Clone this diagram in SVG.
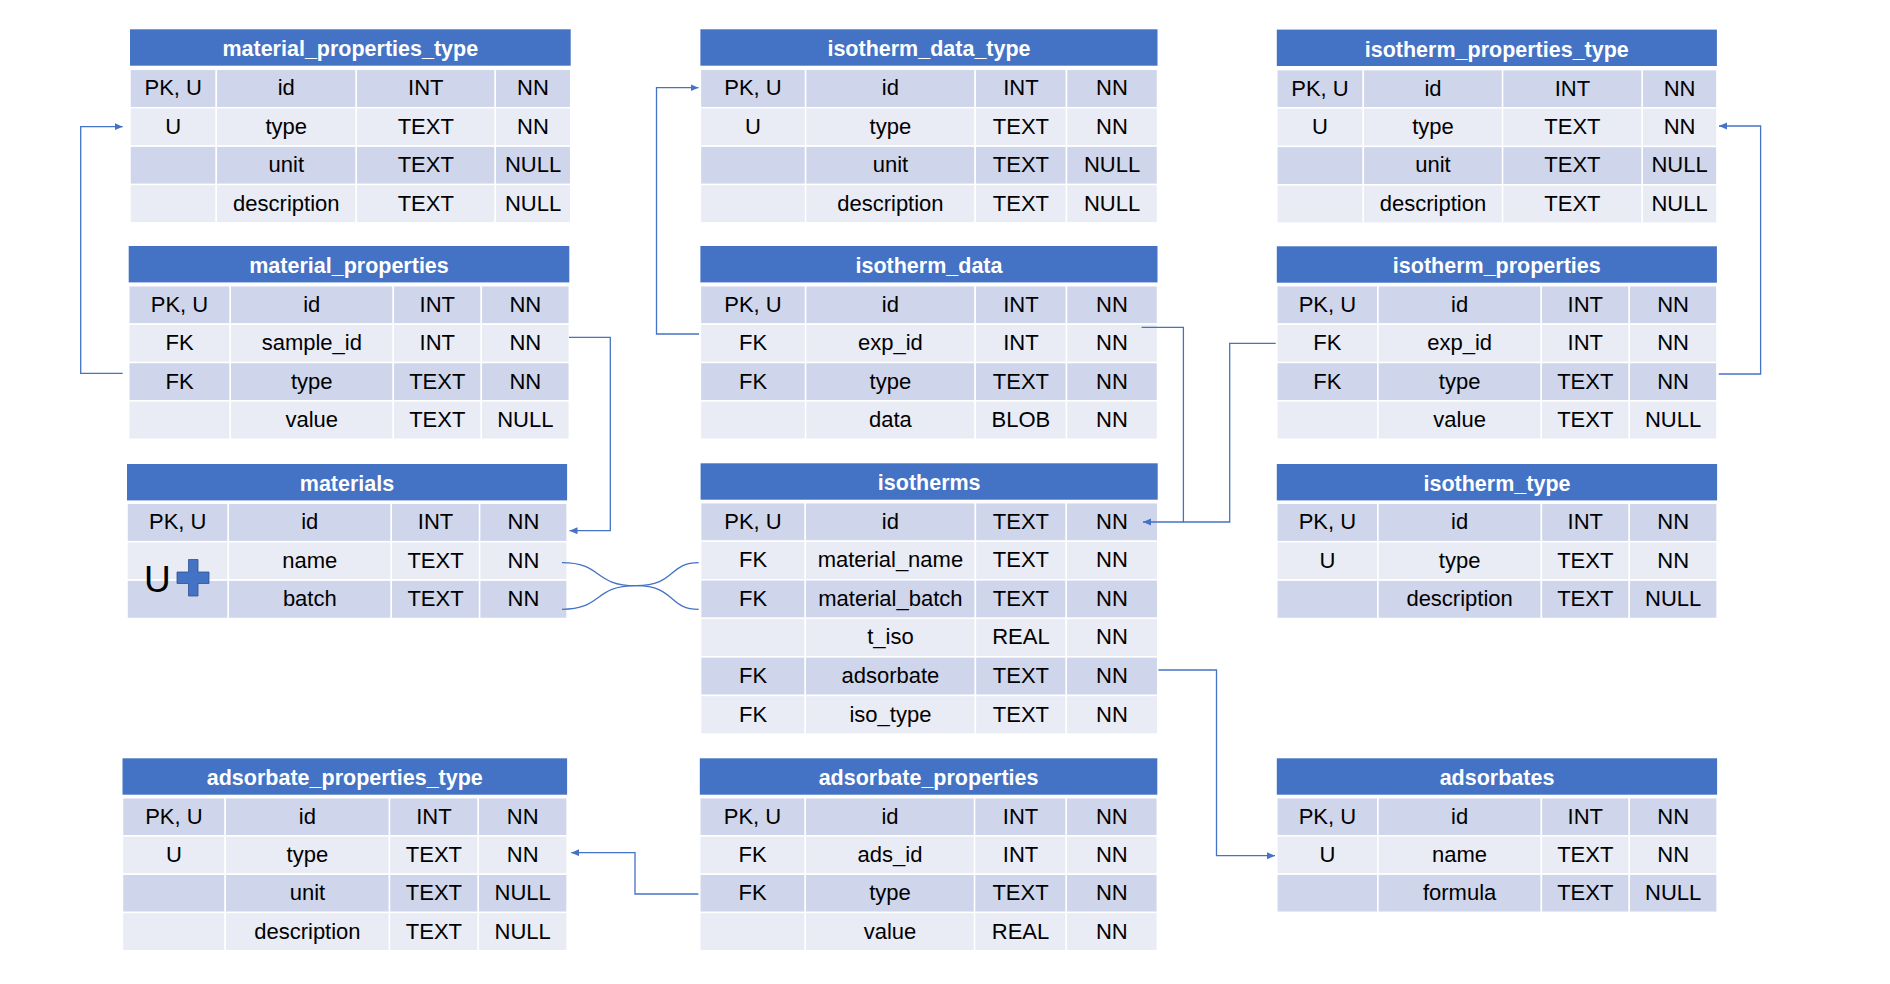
<svg xmlns="http://www.w3.org/2000/svg" width="1890" height="984" viewBox="0 0 1890 984">
<defs>
<style>
.hd{fill:#4472c4}
.d{fill:#cfd5ea;stroke:#fff;stroke-width:1.5}
.l{fill:#e9ebf5;stroke:#fff;stroke-width:1.5}
.ht{font-family:"Liberation Sans",Arial,sans-serif;font-weight:bold;font-size:21.5px;fill:#fff;text-anchor:middle;transform:translateY(1px)}
.t{font-family:"Liberation Sans",Arial,sans-serif;font-size:22px;fill:#000;text-anchor:middle;transform:translateY(1px)}
.c{fill:none;stroke:#4472c4;stroke-width:1.3}
</style>
<marker id="ah" markerUnits="userSpaceOnUse" markerWidth="9" markerHeight="8" refX="8" refY="3.5" orient="auto">
<path d="M0,0 L8,3.5 L0,7 z" fill="#4472c4"/>
</marker>
</defs>
<rect width="1890" height="984" fill="#fff"/>

<!-- material_properties_type -->
<g id="material_properties_type">
<rect class="hd" x="130" y="29.3" width="440.7" height="36.4"/>
<text class="ht" x="350.3" y="55.3">material_properties_type</text>
<rect class="d" x="130" y="69.3" width="86.3" height="38.4"/><rect class="d" x="216.3" y="69.3" width="140" height="38.4"/><rect class="d" x="356.3" y="69.3" width="139" height="38.4"/><rect class="d" x="495.3" y="69.3" width="75.4" height="38.4"/>
<rect class="l" x="130" y="107.7" width="86.3" height="38.4"/><rect class="l" x="216.3" y="107.7" width="140" height="38.4"/><rect class="l" x="356.3" y="107.7" width="139" height="38.4"/><rect class="l" x="495.3" y="107.7" width="75.4" height="38.4"/>
<rect class="d" x="130" y="146.1" width="86.3" height="38.4"/><rect class="d" x="216.3" y="146.1" width="140" height="38.4"/><rect class="d" x="356.3" y="146.1" width="139" height="38.4"/><rect class="d" x="495.3" y="146.1" width="75.4" height="38.4"/>
<rect class="l" x="130" y="184.5" width="86.3" height="38.4"/><rect class="l" x="216.3" y="184.5" width="140" height="38.4"/><rect class="l" x="356.3" y="184.5" width="139" height="38.4"/><rect class="l" x="495.3" y="184.5" width="75.4" height="38.4"/>
<text class="t" x="173.2" y="94.3">PK, U</text><text class="t" x="286.3" y="94.3">id</text><text class="t" x="425.8" y="94.3">INT</text><text class="t" x="533" y="94.3">NN</text>
<text class="t" x="173.2" y="132.7">U</text><text class="t" x="286.3" y="132.7">type</text><text class="t" x="425.8" y="132.7">TEXT</text><text class="t" x="533" y="132.7">NN</text>
<text class="t" x="286.3" y="171.1">unit</text><text class="t" x="425.8" y="171.1">TEXT</text><text class="t" x="533" y="171.1">NULL</text>
<text class="t" x="286.3" y="209.5">description</text><text class="t" x="425.8" y="209.5">TEXT</text><text class="t" x="533" y="209.5">NULL</text>
</g>

<!-- material_properties -->
<g id="material_properties">
<rect class="hd" x="128.7" y="246" width="440.6" height="36.4"/>
<text class="ht" x="349" y="272">material_properties</text>
<rect class="d" x="128.7" y="285.7" width="101.6" height="38.4"/><rect class="d" x="230.3" y="285.7" width="163" height="38.4"/><rect class="d" x="393.3" y="285.7" width="88" height="38.4"/><rect class="d" x="481.3" y="285.7" width="88" height="38.4"/>
<rect class="l" x="128.7" y="324.1" width="101.6" height="38.4"/><rect class="l" x="230.3" y="324.1" width="163" height="38.4"/><rect class="l" x="393.3" y="324.1" width="88" height="38.4"/><rect class="l" x="481.3" y="324.1" width="88" height="38.4"/>
<rect class="d" x="128.7" y="362.5" width="101.6" height="38.4"/><rect class="d" x="230.3" y="362.5" width="163" height="38.4"/><rect class="d" x="393.3" y="362.5" width="88" height="38.4"/><rect class="d" x="481.3" y="362.5" width="88" height="38.4"/>
<rect class="l" x="128.7" y="400.9" width="101.6" height="38.4"/><rect class="l" x="230.3" y="400.9" width="163" height="38.4"/><rect class="l" x="393.3" y="400.9" width="88" height="38.4"/><rect class="l" x="481.3" y="400.9" width="88" height="38.4"/>
<text class="t" x="179.5" y="310.7">PK, U</text><text class="t" x="311.8" y="310.7">id</text><text class="t" x="437.3" y="310.7">INT</text><text class="t" x="525.3" y="310.7">NN</text>
<text class="t" x="179.5" y="349.1">FK</text><text class="t" x="311.8" y="349.1">sample_id</text><text class="t" x="437.3" y="349.1">INT</text><text class="t" x="525.3" y="349.1">NN</text>
<text class="t" x="179.5" y="387.5">FK</text><text class="t" x="311.8" y="387.5">type</text><text class="t" x="437.3" y="387.5">TEXT</text><text class="t" x="525.3" y="387.5">NN</text>
<text class="t" x="311.8" y="425.9">value</text><text class="t" x="437.3" y="425.9">TEXT</text><text class="t" x="525.3" y="425.9">NULL</text>
</g>

<!-- isotherm_data_type -->
<g id="isotherm_data_type">
<rect class="hd" x="700.4" y="29.3" width="457.1" height="36.4"/>
<text class="ht" x="929" y="55.3">isotherm_data_type</text>
<rect class="d" x="700.4" y="69.3" width="105.2" height="38.4"/><rect class="d" x="805.6" y="69.3" width="169.6" height="38.4"/><rect class="d" x="975.2" y="69.3" width="91.3" height="38.4"/><rect class="d" x="1066.5" y="69.3" width="91" height="38.4"/>
<rect class="l" x="700.4" y="107.7" width="105.2" height="38.4"/><rect class="l" x="805.6" y="107.7" width="169.6" height="38.4"/><rect class="l" x="975.2" y="107.7" width="91.3" height="38.4"/><rect class="l" x="1066.5" y="107.7" width="91" height="38.4"/>
<rect class="d" x="700.4" y="146.1" width="105.2" height="38.4"/><rect class="d" x="805.6" y="146.1" width="169.6" height="38.4"/><rect class="d" x="975.2" y="146.1" width="91.3" height="38.4"/><rect class="d" x="1066.5" y="146.1" width="91" height="38.4"/>
<rect class="l" x="700.4" y="184.5" width="105.2" height="38.4"/><rect class="l" x="805.6" y="184.5" width="169.6" height="38.4"/><rect class="l" x="975.2" y="184.5" width="91.3" height="38.4"/><rect class="l" x="1066.5" y="184.5" width="91" height="38.4"/>
<text class="t" x="753" y="94.3">PK, U</text><text class="t" x="890.4" y="94.3">id</text><text class="t" x="1020.9" y="94.3">INT</text><text class="t" x="1112" y="94.3">NN</text>
<text class="t" x="753" y="132.7">U</text><text class="t" x="890.4" y="132.7">type</text><text class="t" x="1020.9" y="132.7">TEXT</text><text class="t" x="1112" y="132.7">NN</text>
<text class="t" x="890.4" y="171.1">unit</text><text class="t" x="1020.9" y="171.1">TEXT</text><text class="t" x="1112" y="171.1">NULL</text>
<text class="t" x="890.4" y="209.5">description</text><text class="t" x="1020.9" y="209.5">TEXT</text><text class="t" x="1112" y="209.5">NULL</text>
</g>

<!-- isotherm_data -->
<g id="isotherm_data">
<rect class="hd" x="700.4" y="246" width="457.1" height="36.4"/>
<text class="ht" x="929" y="272">isotherm_data</text>
<rect class="d" x="700.4" y="285.7" width="105.2" height="38.4"/><rect class="d" x="805.6" y="285.7" width="169.6" height="38.4"/><rect class="d" x="975.2" y="285.7" width="91.3" height="38.4"/><rect class="d" x="1066.5" y="285.7" width="91" height="38.4"/>
<rect class="l" x="700.4" y="324.1" width="105.2" height="38.4"/><rect class="l" x="805.6" y="324.1" width="169.6" height="38.4"/><rect class="l" x="975.2" y="324.1" width="91.3" height="38.4"/><rect class="l" x="1066.5" y="324.1" width="91" height="38.4"/>
<rect class="d" x="700.4" y="362.5" width="105.2" height="38.4"/><rect class="d" x="805.6" y="362.5" width="169.6" height="38.4"/><rect class="d" x="975.2" y="362.5" width="91.3" height="38.4"/><rect class="d" x="1066.5" y="362.5" width="91" height="38.4"/>
<rect class="l" x="700.4" y="400.9" width="105.2" height="38.4"/><rect class="l" x="805.6" y="400.9" width="169.6" height="38.4"/><rect class="l" x="975.2" y="400.9" width="91.3" height="38.4"/><rect class="l" x="1066.5" y="400.9" width="91" height="38.4"/>
<text class="t" x="753" y="310.7">PK, U</text><text class="t" x="890.4" y="310.7">id</text><text class="t" x="1020.9" y="310.7">INT</text><text class="t" x="1112" y="310.7">NN</text>
<text class="t" x="753" y="349.1">FK</text><text class="t" x="890.4" y="349.1">exp_id</text><text class="t" x="1020.9" y="349.1">INT</text><text class="t" x="1112" y="349.1">NN</text>
<text class="t" x="753" y="387.5">FK</text><text class="t" x="890.4" y="387.5">type</text><text class="t" x="1020.9" y="387.5">TEXT</text><text class="t" x="1112" y="387.5">NN</text>
<text class="t" x="890.4" y="425.9">data</text><text class="t" x="1020.9" y="425.9">BLOB</text><text class="t" x="1112" y="425.9">NN</text>
</g>

<!-- isotherm_properties_type -->
<g id="isotherm_properties_type">
<rect class="hd" x="1276.8" y="29.6" width="440.1" height="36.4"/>
<text class="ht" x="1496.8" y="55.6">isotherm_properties_type</text>
<rect class="d" x="1276.8" y="69.6" width="86.5" height="38.4"/><rect class="d" x="1363.3" y="69.6" width="139.3" height="38.4"/><rect class="d" x="1502.6" y="69.6" width="139.7" height="38.4"/><rect class="d" x="1642.3" y="69.6" width="74.6" height="38.4"/>
<rect class="l" x="1276.8" y="108" width="86.5" height="38.4"/><rect class="l" x="1363.3" y="108" width="139.3" height="38.4"/><rect class="l" x="1502.6" y="108" width="139.7" height="38.4"/><rect class="l" x="1642.3" y="108" width="74.6" height="38.4"/>
<rect class="d" x="1276.8" y="146.4" width="86.5" height="38.4"/><rect class="d" x="1363.3" y="146.4" width="139.3" height="38.4"/><rect class="d" x="1502.6" y="146.4" width="139.7" height="38.4"/><rect class="d" x="1642.3" y="146.4" width="74.6" height="38.4"/>
<rect class="l" x="1276.8" y="184.8" width="86.5" height="38.4"/><rect class="l" x="1363.3" y="184.8" width="139.3" height="38.4"/><rect class="l" x="1502.6" y="184.8" width="139.7" height="38.4"/><rect class="l" x="1642.3" y="184.8" width="74.6" height="38.4"/>
<text class="t" x="1320" y="94.6">PK, U</text><text class="t" x="1433" y="94.6">id</text><text class="t" x="1572.4" y="94.6">INT</text><text class="t" x="1679.6" y="94.6">NN</text>
<text class="t" x="1320" y="133">U</text><text class="t" x="1433" y="133">type</text><text class="t" x="1572.4" y="133">TEXT</text><text class="t" x="1679.6" y="133">NN</text>
<text class="t" x="1433" y="171.4">unit</text><text class="t" x="1572.4" y="171.4">TEXT</text><text class="t" x="1679.6" y="171.4">NULL</text>
<text class="t" x="1433" y="209.8">description</text><text class="t" x="1572.4" y="209.8">TEXT</text><text class="t" x="1679.6" y="209.8">NULL</text>
</g>

<!-- isotherm_properties -->
<g id="isotherm_properties">
<rect class="hd" x="1276.8" y="246.3" width="440.1" height="36.4"/>
<text class="ht" x="1496.8" y="272.3">isotherm_properties</text>
<rect class="d" x="1276.8" y="285.7" width="101.1" height="38.4"/><rect class="d" x="1377.9" y="285.7" width="163.4" height="38.4"/><rect class="d" x="1541.3" y="285.7" width="88" height="38.4"/><rect class="d" x="1629.3" y="285.7" width="87.6" height="38.4"/>
<rect class="l" x="1276.8" y="324.1" width="101.1" height="38.4"/><rect class="l" x="1377.9" y="324.1" width="163.4" height="38.4"/><rect class="l" x="1541.3" y="324.1" width="88" height="38.4"/><rect class="l" x="1629.3" y="324.1" width="87.6" height="38.4"/>
<rect class="d" x="1276.8" y="362.5" width="101.1" height="38.4"/><rect class="d" x="1377.9" y="362.5" width="163.4" height="38.4"/><rect class="d" x="1541.3" y="362.5" width="88" height="38.4"/><rect class="d" x="1629.3" y="362.5" width="87.6" height="38.4"/>
<rect class="l" x="1276.8" y="400.9" width="101.1" height="38.4"/><rect class="l" x="1377.9" y="400.9" width="163.4" height="38.4"/><rect class="l" x="1541.3" y="400.9" width="88" height="38.4"/><rect class="l" x="1629.3" y="400.9" width="87.6" height="38.4"/>
<text class="t" x="1327.4" y="310.7">PK, U</text><text class="t" x="1459.6" y="310.7">id</text><text class="t" x="1585.3" y="310.7">INT</text><text class="t" x="1673.1" y="310.7">NN</text>
<text class="t" x="1327.4" y="349.1">FK</text><text class="t" x="1459.6" y="349.1">exp_id</text><text class="t" x="1585.3" y="349.1">INT</text><text class="t" x="1673.1" y="349.1">NN</text>
<text class="t" x="1327.4" y="387.5">FK</text><text class="t" x="1459.6" y="387.5">type</text><text class="t" x="1585.3" y="387.5">TEXT</text><text class="t" x="1673.1" y="387.5">NN</text>
<text class="t" x="1459.6" y="425.9">value</text><text class="t" x="1585.3" y="425.9">TEXT</text><text class="t" x="1673.1" y="425.9">NULL</text>
</g>

<!-- materials -->
<g id="materials">
<rect class="hd" x="127" y="464" width="440.1" height="36.4"/>
<text class="ht" x="347" y="490">materials</text>
<rect class="d" x="127" y="503.3" width="101.3" height="38.4"/><rect class="d" x="228.3" y="503.3" width="163" height="38.4"/><rect class="d" x="391.3" y="503.3" width="88.3" height="38.4"/><rect class="d" x="479.6" y="503.3" width="87.5" height="38.4"/>
<rect class="l" x="127" y="541.7" width="101.3" height="38.4"/><rect class="l" x="228.3" y="541.7" width="163" height="38.4"/><rect class="l" x="391.3" y="541.7" width="88.3" height="38.4"/><rect class="l" x="479.6" y="541.7" width="87.5" height="38.4"/>
<rect class="d" x="127" y="580.1" width="101.3" height="38.4"/><rect class="d" x="228.3" y="580.1" width="163" height="38.4"/><rect class="d" x="391.3" y="580.1" width="88.3" height="38.4"/><rect class="d" x="479.6" y="580.1" width="87.5" height="38.4"/>
<text class="t" x="177.7" y="528.3">PK, U</text><text class="t" x="309.8" y="528.3">id</text><text class="t" x="435.5" y="528.3">INT</text><text class="t" x="523.4" y="528.3">NN</text>
<text class="t" x="309.8" y="566.7">name</text><text class="t" x="435.5" y="566.7">TEXT</text><text class="t" x="523.4" y="566.7">NN</text>
<text class="t" x="309.8" y="605.1">batch</text><text class="t" x="435.5" y="605.1">TEXT</text><text class="t" x="523.4" y="605.1">NN</text>
<text x="144" y="592" font-family="Liberation Sans,Arial,sans-serif" font-size="37" fill="#000">U</text>
<path d="M188.5,559.5 H198 V572 H209 V583.5 H198 V596 H188.5 V583.5 H177 V572 H188.5 Z" fill="#4472c4" stroke="#2f528f" stroke-width="0.8"/>
</g>

<!-- isotherms -->
<g id="isotherms">
<rect class="hd" x="700.6" y="463.3" width="457.1" height="36.4"/>
<text class="ht" x="929.2" y="489.3">isotherms</text>
<rect class="d" x="700.6" y="502.7" width="104.7" height="38.55"/><rect class="d" x="805.3" y="502.7" width="170.1" height="38.55"/><rect class="d" x="975.4" y="502.7" width="90.9" height="38.55"/><rect class="d" x="1066.3" y="502.7" width="91.4" height="38.55"/>
<rect class="l" x="700.6" y="541.25" width="104.7" height="38.55"/><rect class="l" x="805.3" y="541.25" width="170.1" height="38.55"/><rect class="l" x="975.4" y="541.25" width="90.9" height="38.55"/><rect class="l" x="1066.3" y="541.25" width="91.4" height="38.55"/>
<rect class="d" x="700.6" y="579.8" width="104.7" height="38.55"/><rect class="d" x="805.3" y="579.8" width="170.1" height="38.55"/><rect class="d" x="975.4" y="579.8" width="90.9" height="38.55"/><rect class="d" x="1066.3" y="579.8" width="91.4" height="38.55"/>
<rect class="l" x="700.6" y="618.35" width="104.7" height="38.55"/><rect class="l" x="805.3" y="618.35" width="170.1" height="38.55"/><rect class="l" x="975.4" y="618.35" width="90.9" height="38.55"/><rect class="l" x="1066.3" y="618.35" width="91.4" height="38.55"/>
<rect class="d" x="700.6" y="656.9" width="104.7" height="38.55"/><rect class="d" x="805.3" y="656.9" width="170.1" height="38.55"/><rect class="d" x="975.4" y="656.9" width="90.9" height="38.55"/><rect class="d" x="1066.3" y="656.9" width="91.4" height="38.55"/>
<rect class="l" x="700.6" y="695.45" width="104.7" height="38.55"/><rect class="l" x="805.3" y="695.45" width="170.1" height="38.55"/><rect class="l" x="975.4" y="695.45" width="90.9" height="38.55"/><rect class="l" x="1066.3" y="695.45" width="91.4" height="38.55"/>
<text class="t" x="753" y="527.7">PK, U</text><text class="t" x="890.4" y="527.7">id</text><text class="t" x="1020.9" y="527.7">TEXT</text><text class="t" x="1112" y="527.7">NN</text>
<text class="t" x="753" y="566.3">FK</text><text class="t" x="890.4" y="566.3">material_name</text><text class="t" x="1020.9" y="566.3">TEXT</text><text class="t" x="1112" y="566.3">NN</text>
<text class="t" x="753" y="604.8">FK</text><text class="t" x="890.4" y="604.8">material_batch</text><text class="t" x="1020.9" y="604.8">TEXT</text><text class="t" x="1112" y="604.8">NN</text>
<text class="t" x="890.4" y="643.4">t_iso</text><text class="t" x="1020.9" y="643.4">REAL</text><text class="t" x="1112" y="643.4">NN</text>
<text class="t" x="753" y="681.9">FK</text><text class="t" x="890.4" y="681.9">adsorbate</text><text class="t" x="1020.9" y="681.9">TEXT</text><text class="t" x="1112" y="681.9">NN</text>
<text class="t" x="753" y="720.5">FK</text><text class="t" x="890.4" y="720.5">iso_type</text><text class="t" x="1020.9" y="720.5">TEXT</text><text class="t" x="1112" y="720.5">NN</text>
</g>

<!-- isotherm_type -->
<g id="isotherm_type">
<rect class="hd" x="1276.8" y="464" width="440.3" height="36.4"/>
<text class="ht" x="1497" y="490">isotherm_type</text>
<rect class="d" x="1276.8" y="503.3" width="101.1" height="38.4"/><rect class="d" x="1377.9" y="503.3" width="163.5" height="38.4"/><rect class="d" x="1541.4" y="503.3" width="87.9" height="38.4"/><rect class="d" x="1629.3" y="503.3" width="87.8" height="38.4"/>
<rect class="l" x="1276.8" y="541.7" width="101.1" height="38.4"/><rect class="l" x="1377.9" y="541.7" width="163.5" height="38.4"/><rect class="l" x="1541.4" y="541.7" width="87.9" height="38.4"/><rect class="l" x="1629.3" y="541.7" width="87.8" height="38.4"/>
<rect class="d" x="1276.8" y="580.1" width="101.1" height="38.4"/><rect class="d" x="1377.9" y="580.1" width="163.5" height="38.4"/><rect class="d" x="1541.4" y="580.1" width="87.9" height="38.4"/><rect class="d" x="1629.3" y="580.1" width="87.8" height="38.4"/>
<text class="t" x="1327.4" y="528.3">PK, U</text><text class="t" x="1459.6" y="528.3">id</text><text class="t" x="1585.3" y="528.3">INT</text><text class="t" x="1673.2" y="528.3">NN</text>
<text class="t" x="1327.4" y="566.7">U</text><text class="t" x="1459.6" y="566.7">type</text><text class="t" x="1585.3" y="566.7">TEXT</text><text class="t" x="1673.2" y="566.7">NN</text>
<text class="t" x="1459.6" y="605.1">description</text><text class="t" x="1585.3" y="605.1">TEXT</text><text class="t" x="1673.2" y="605.1">NULL</text>
</g>

<!-- adsorbate_properties_type -->
<g id="adsorbate_properties_type">
<rect class="hd" x="122.5" y="758.3" width="444.6" height="36.4"/>
<text class="ht" x="344.8" y="784.3">adsorbate_properties_type</text>
<rect class="d" x="122.5" y="797.7" width="102.7" height="38.25"/><rect class="d" x="225.2" y="797.7" width="164.3" height="38.25"/><rect class="d" x="389.5" y="797.7" width="88.8" height="38.25"/><rect class="d" x="478.3" y="797.7" width="88.8" height="38.25"/>
<rect class="l" x="122.5" y="835.95" width="102.7" height="38.25"/><rect class="l" x="225.2" y="835.95" width="164.3" height="38.25"/><rect class="l" x="389.5" y="835.95" width="88.8" height="38.25"/><rect class="l" x="478.3" y="835.95" width="88.8" height="38.25"/>
<rect class="d" x="122.5" y="874.2" width="102.7" height="38.25"/><rect class="d" x="225.2" y="874.2" width="164.3" height="38.25"/><rect class="d" x="389.5" y="874.2" width="88.8" height="38.25"/><rect class="d" x="478.3" y="874.2" width="88.8" height="38.25"/>
<rect class="l" x="122.5" y="912.45" width="102.7" height="38.25"/><rect class="l" x="225.2" y="912.45" width="164.3" height="38.25"/><rect class="l" x="389.5" y="912.45" width="88.8" height="38.25"/><rect class="l" x="478.3" y="912.45" width="88.8" height="38.25"/>
<text class="t" x="173.9" y="822.7">PK, U</text><text class="t" x="307.4" y="822.7">id</text><text class="t" x="433.9" y="822.7">INT</text><text class="t" x="522.7" y="822.7">NN</text>
<text class="t" x="173.9" y="861">U</text><text class="t" x="307.4" y="861">type</text><text class="t" x="433.9" y="861">TEXT</text><text class="t" x="522.7" y="861">NN</text>
<text class="t" x="307.4" y="899.2">unit</text><text class="t" x="433.9" y="899.2">TEXT</text><text class="t" x="522.7" y="899.2">NULL</text>
<text class="t" x="307.4" y="937.5">description</text><text class="t" x="433.9" y="937.5">TEXT</text><text class="t" x="522.7" y="937.5">NULL</text>
</g>

<!-- adsorbate_properties -->
<g id="adsorbate_properties">
<rect class="hd" x="699.8" y="758.3" width="457.5" height="36.4"/>
<text class="ht" x="928.6" y="784.3">adsorbate_properties</text>
<rect class="d" x="699.8" y="797.7" width="105.5" height="38.25"/><rect class="d" x="805.3" y="797.7" width="169.3" height="38.25"/><rect class="d" x="974.6" y="797.7" width="91.7" height="38.25"/><rect class="d" x="1066.3" y="797.7" width="91" height="38.25"/>
<rect class="l" x="699.8" y="835.95" width="105.5" height="38.25"/><rect class="l" x="805.3" y="835.95" width="169.3" height="38.25"/><rect class="l" x="974.6" y="835.95" width="91.7" height="38.25"/><rect class="l" x="1066.3" y="835.95" width="91" height="38.25"/>
<rect class="d" x="699.8" y="874.2" width="105.5" height="38.25"/><rect class="d" x="805.3" y="874.2" width="169.3" height="38.25"/><rect class="d" x="974.6" y="874.2" width="91.7" height="38.25"/><rect class="d" x="1066.3" y="874.2" width="91" height="38.25"/>
<rect class="l" x="699.8" y="912.45" width="105.5" height="38.25"/><rect class="l" x="805.3" y="912.45" width="169.3" height="38.25"/><rect class="l" x="974.6" y="912.45" width="91.7" height="38.25"/><rect class="l" x="1066.3" y="912.45" width="91" height="38.25"/>
<text class="t" x="752.5" y="822.7">PK, U</text><text class="t" x="890" y="822.7">id</text><text class="t" x="1020.5" y="822.7">INT</text><text class="t" x="1111.8" y="822.7">NN</text>
<text class="t" x="752.5" y="861">FK</text><text class="t" x="890" y="861">ads_id</text><text class="t" x="1020.5" y="861">INT</text><text class="t" x="1111.8" y="861">NN</text>
<text class="t" x="752.5" y="899.2">FK</text><text class="t" x="890" y="899.2">type</text><text class="t" x="1020.5" y="899.2">TEXT</text><text class="t" x="1111.8" y="899.2">NN</text>
<text class="t" x="890" y="937.5">value</text><text class="t" x="1020.5" y="937.5">REAL</text><text class="t" x="1111.8" y="937.5">NN</text>
</g>

<!-- adsorbates -->
<g id="adsorbates">
<rect class="hd" x="1276.8" y="758.3" width="440.3" height="36.4"/>
<text class="ht" x="1497" y="784.3">adsorbates</text>
<rect class="d" x="1276.8" y="797.7" width="101.1" height="38.2"/><rect class="d" x="1377.9" y="797.7" width="163.5" height="38.2"/><rect class="d" x="1541.4" y="797.7" width="87.9" height="38.2"/><rect class="d" x="1629.3" y="797.7" width="87.8" height="38.2"/>
<rect class="l" x="1276.8" y="835.9" width="101.1" height="38.2"/><rect class="l" x="1377.9" y="835.9" width="163.5" height="38.2"/><rect class="l" x="1541.4" y="835.9" width="87.9" height="38.2"/><rect class="l" x="1629.3" y="835.9" width="87.8" height="38.2"/>
<rect class="d" x="1276.8" y="874.1" width="101.1" height="38.2"/><rect class="d" x="1377.9" y="874.1" width="163.5" height="38.2"/><rect class="d" x="1541.4" y="874.1" width="87.9" height="38.2"/><rect class="d" x="1629.3" y="874.1" width="87.8" height="38.2"/>
<text class="t" x="1327.4" y="822.7">PK, U</text><text class="t" x="1459.6" y="822.7">id</text><text class="t" x="1585.3" y="822.7">INT</text><text class="t" x="1673.2" y="822.7">NN</text>
<text class="t" x="1327.4" y="860.9">U</text><text class="t" x="1459.6" y="860.9">name</text><text class="t" x="1585.3" y="860.9">TEXT</text><text class="t" x="1673.2" y="860.9">NN</text>
<text class="t" x="1459.6" y="899.1">formula</text><text class="t" x="1585.3" y="899.1">TEXT</text><text class="t" x="1673.2" y="899.1">NULL</text>
</g>

<!-- connectors -->
<g id="connectors">
<path class="c" d="M122.7,373.3 H80.7 V126.7 H122.7" marker-end="url(#ah)"/>
<path class="c" d="M569,337.3 H610.3 V530.7 H569.5" marker-end="url(#ah)"/>
<path class="c" d="M699,334 H656.5 V87.7 H698.5" marker-end="url(#ah)"/>
<path class="c" d="M1141.6,327.3 H1183.4 V522 H1143" marker-end="url(#ah)"/>
<path class="c" d="M1275.7,343.3 H1229.7 V522 H1183.4"/>
<path class="c" d="M1718.8,374 H1760.6 V126 H1719" marker-end="url(#ah)"/>
<path class="c" d="M1158.4,670 H1216.5 V855.7 H1275" marker-end="url(#ah)"/>
<path class="c" d="M698.4,894 H635 V852.7 H571.2" marker-end="url(#ah)"/>
<path class="c" stroke-width="1" d="M562,562.7 C603,562.7 593,585.7 636,585.7 C676,585.7 668,562.7 698.7,562.7"/>
<path class="c" stroke-width="1" d="M562,609.3 C603,609.3 593,585.7 636,585.7 C676,585.7 668,609.3 698.7,609.3"/>
</g>
</svg>
